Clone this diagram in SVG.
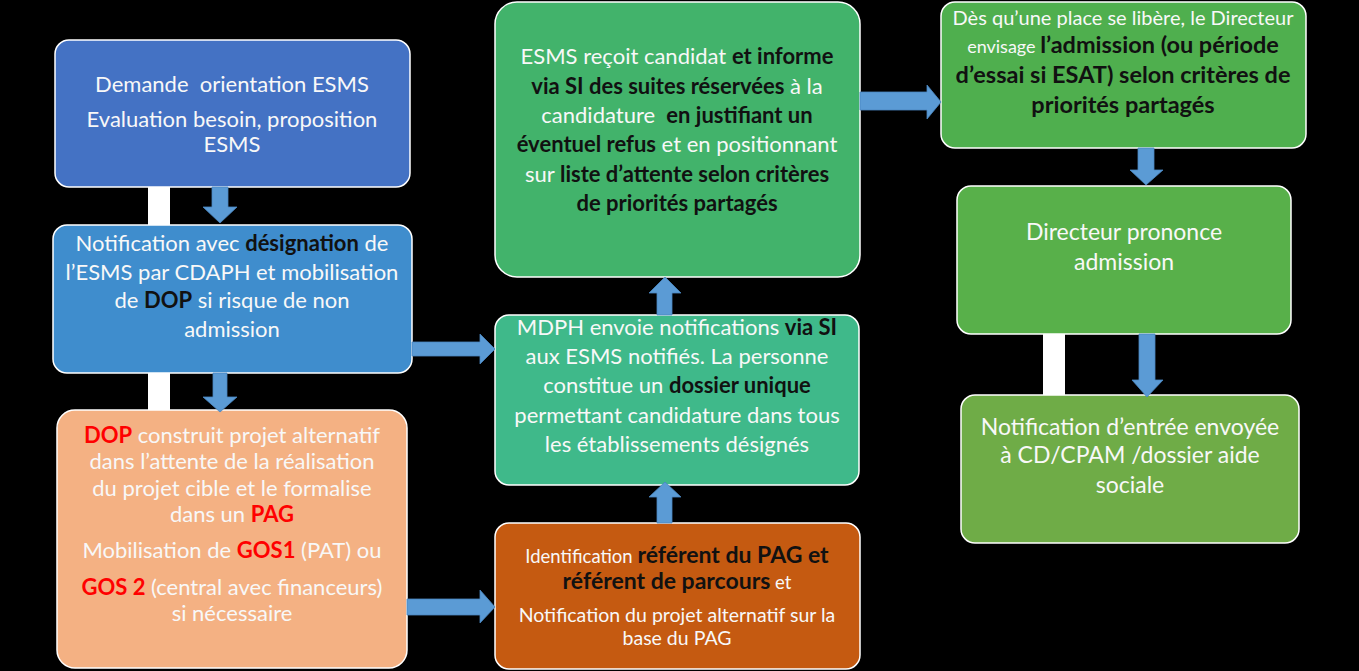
<svg xmlns="http://www.w3.org/2000/svg" width="1359" height="671" viewBox="0 0 1359 671">
<style>
.node{stroke:#ffffff;stroke-width:1.5}
.t{font-family:Lato,"Liberation Sans",sans-serif;fill:#f8f8f8;text-anchor:middle}
.b{font-weight:bold;fill:#111111}
.r{font-weight:bold;fill:#ff0000}
.arrow{fill:#5b9bd5;stroke:#4a86c0;stroke-width:0.8}
.bar{fill:#ffffff}
</style>
<rect x="0" y="0" width="1359" height="671" fill="#000000"/>
<g id="bars">
<rect class="bar" x="148" y="186" width="22" height="40"/>
<rect class="bar" x="148" y="372" width="22" height="39"/>
<rect class="bar" x="1043" y="333" width="22" height="63"/>
</g>
<g id="n1">
<rect class="node" x="55" y="40" width="355" height="147" rx="14" fill="#4472c4"/>
<text class="t" font-size="22" xml:space="preserve"><tspan x="232" y="92">Demande  orientation ESMS</tspan><tspan x="232" y="127">Evaluation besoin, proposition</tspan><tspan x="232" y="152">ESMS</tspan></text>
</g>
<g id="n2">
<rect class="node" x="53" y="225" width="359" height="148" rx="14" fill="#3f8dcd"/>
<text class="t" font-size="22"><tspan x="232" y="251">Notification avec <tspan class="b">désignation</tspan> de</tspan><tspan x="232" y="280">l’ESMS par CDAPH et mobilisation</tspan><tspan x="232" y="308">de <tspan class="b">DOP</tspan> si risque de non</tspan><tspan x="232" y="337">admission</tspan></text>
</g>
<g id="n3">
<rect class="node" x="57" y="410" width="350" height="258" rx="18" fill="#f4b183"/>
<text class="t" font-size="22"><tspan x="232" y="443"><tspan class="r">DOP</tspan> construit projet alternatif</tspan><tspan x="232" y="469">dans l’attente de la réalisation</tspan><tspan x="232" y="496">du projet cible et le formalise</tspan><tspan x="232" y="522">dans un <tspan class="r">PAG</tspan></tspan><tspan x="232" y="558">Mobilisation de <tspan class="r">GOS1</tspan> (PAT) ou</tspan><tspan x="232" y="595"><tspan class="r">GOS 2</tspan> (central avec financeurs)</tspan><tspan x="232" y="621">si nécessaire</tspan></text>
</g>
<g id="n4">
<rect class="node" x="495" y="2" width="365" height="275" rx="22" fill="#42b36b"/>
<text class="t" font-size="22" xml:space="preserve"><tspan x="677" y="64">ESMS reçoit candidat <tspan class="b">et informe</tspan></tspan><tspan x="677" y="94"><tspan class="b">via SI des suites réservées</tspan> à la</tspan><tspan x="677" y="123">candidature  <tspan class="b">en justifiant un</tspan></tspan><tspan x="677" y="152"><tspan class="b">éventuel refus</tspan> et en positionnant</tspan><tspan x="677" y="182">sur <tspan class="b">liste d’attente selon critères</tspan></tspan><tspan x="677" y="211"><tspan class="b">de priorités partagés</tspan></tspan></text>
</g>
<g id="n5">
<rect class="node" x="495" y="315" width="364" height="170" rx="14" fill="#3fb98a"/>
<text class="t" font-size="22"><tspan x="677" y="335">MDPH envoie notifications <tspan class="b">via SI</tspan></tspan><tspan x="677" y="364">aux ESMS notifiés. La personne</tspan><tspan x="677" y="393">constitue un <tspan class="b">dossier unique</tspan></tspan><tspan x="677" y="423">permettant candidature dans tous</tspan><tspan x="677" y="452">les établissements désignés</tspan></text>
</g>
<g id="n6">
<rect class="node" x="495" y="523" width="365" height="146" rx="14" fill="#c55a11"/>
<text class="t" font-size="19.5"><tspan x="677" y="563"><tspan font-size="18.5">Identification </tspan><tspan class="b" font-size="23">référent du PAG et</tspan></tspan><tspan x="677" y="589"><tspan class="b" font-size="23">référent de parcours</tspan><tspan font-size="18.5"> et</tspan></tspan><tspan x="677" y="622">Notification du projet alternatif sur la</tspan><tspan x="677" y="645">base du PAG</tspan></text>
</g>
<g id="n7">
<rect class="node" x="941" y="2" width="365" height="146" rx="14" fill="#4faf4e"/>
<text class="t" font-size="20"><tspan x="1123" y="25">Dès qu’une place se libère, le Directeur</tspan><tspan x="1123" y="53"><tspan font-size="18">envisage </tspan><tspan class="b" font-size="23.5">l’admission (ou période</tspan></tspan><tspan x="1123" y="83" class="b" font-size="23.5">d’essai si ESAT) selon critères de</tspan><tspan x="1123" y="113" class="b" font-size="23.5">priorités partagés</tspan></text>
</g>
<g id="n8">
<rect class="node" x="957" y="186" width="334" height="148" rx="14" fill="#58b04a"/>
<text class="t" font-size="23"><tspan x="1124" y="240">Directeur prononce</tspan><tspan x="1124" y="270">admission</tspan></text>
</g>
<g id="n9">
<rect class="node" x="961" y="395" width="338" height="148" rx="14" fill="#6fac47"/>
<text class="t" font-size="23"><tspan x="1130" y="435">Notification d’entrée envoyée</tspan><tspan x="1130" y="463">à CD/CPAM /dossier aide</tspan><tspan x="1130" y="493">sociale</tspan></text>
</g>
<g id="connectors">
<polygon class="arrow" points="212,187 228,187 228,207 237,207 220,223 203,207 212,207"/>
<polygon class="arrow" points="213,373 227,373 227,397 237,397 220,412 203,397 213,397"/>
<polygon class="arrow" points="412,342 480,342 480,334 495,349 480,364 480,356 412,356"/>
<polygon class="arrow" points="407,599 480,599 480,590 495,607 480,623 480,615 407,615"/>
<polygon class="arrow" points="657,523 657,497 649,497 665,482 681,497 672,497 672,523"/>
<polygon class="arrow" points="657,315 657,293 649,293 665,277 681,293 672,293 672,315"/>
<polygon class="arrow" points="860,92 927,92 927,85 941,102 927,119 927,110 860,110"/>
<polygon class="arrow" points="1138,148 1154,148 1154,170 1163,170 1146,185 1130,170 1138,170"/>
<polygon class="arrow" points="1139,334 1155,334 1155,380 1163,380 1147,397 1132,380 1139,380"/>
</g>
</svg>
